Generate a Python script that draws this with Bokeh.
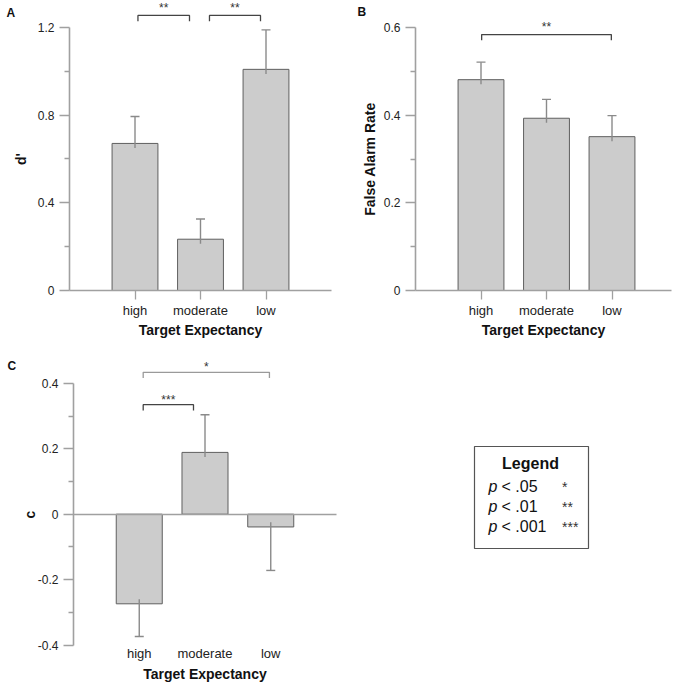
from bokeh.plotting import figure
from bokeh.models import Range1d, FixedTicker, LinearAxis
from bokeh.layouts import column, row
from bokeh.embed import file_html
from bokeh.resources import INLINE
from bokeh.core.properties import value

# ---------------- data ----------------
categories = ["high", "moderate", "low"]

d_prime = [0.671, 0.234, 1.009]
d_prime_se = [0.123, 0.092, 0.180]

false_alarm = [0.481, 0.393, 0.351]
false_alarm_se = [0.040, 0.043, 0.048]

criterion = [-0.274, 0.189, -0.039]
criterion_se = [0.100, 0.115, 0.133]

sig_A = [("high", "moderate", "**"), ("moderate", "low", "**")]
sig_B = [("high", "low", "**")]
sig_C = [("high", "moderate", "***"), ("high", "low", "*")]

ticks_A = [0, 0.4, 0.8, 1.2]
minor_A = [0.2, 0.6, 1.0]
ticks_B = [0, 0.2, 0.4, 0.6]
minor_B = [0.1, 0.3, 0.5]
ticks_C = [-0.4, -0.2, 0, 0.2, 0.4]
minor_C = [-0.3, -0.1, 0.1, 0.3]

legend_title = "Legend"
legend_p = ["< .05", "< .01", "< .001"]
legend_stars = ["*", "**", "***"]

# ---------------- style ----------------
FONT = "Liberation Sans"
AXIS_C = "#a0a0a0"
TEXT_C = "#222222"
BAR_FILL = "#cccccc"
BAR_LINE = "#5f5f5f"
ERR_C = "#8a8a8a"


def style_axis(ax):
    ax.axis_label_text_font = FONT
    ax.axis_label_text_font_style = "bold"
    ax.axis_label_text_font_size = "14px"
    ax.axis_label_text_color = "#111111"
    ax.major_label_text_font = FONT
    ax.major_label_text_color = TEXT_C
    ax.axis_line_color = AXIS_C
    ax.axis_line_width = 1.6
    ax.major_tick_line_color = AXIS_C
    ax.major_tick_line_width = 1.3
    ax.minor_tick_line_color = AXIS_C
    ax.minor_tick_line_width = 1.3
    ax.major_tick_in = 0
    ax.minor_tick_in = 0


def tick_text(t):
    if t == 0:
        return "0"
    return "%g" % t


def panel(letter, vals, errs, sigs, ylabel, ticks, minors, ybounds, xbounds,
          W, H, x0_px, ppx, y0_px, ppy, brackets, star_dy_px, ylab_standoff,
          letter_px, criterion_style=False):
    p = figure(width=W, height=H,
               x_range=Range1d(-x0_px / ppx, (W - x0_px) / ppx),
               y_range=Range1d((y0_px - H) / ppy, y0_px / ppy),
               output_backend="svg", toolbar_location=None,
               min_border=0, min_border_left=0, min_border_right=0,
               min_border_top=0, min_border_bottom=0)
    p.outline_line_color = None
    p.xgrid.visible = False
    p.ygrid.visible = False
    p.background_fill_color = "white"

    xs = [i + 1 for i in range(len(categories))]
    pos = {c: i + 1 for i, c in enumerate(categories)}

    # bars
    p.vbar(x=xs, top=vals, bottom=0, width=0.7,
           fill_color=BAR_FILL, line_color=BAR_LINE, line_width=1)

    # error bars (pointing away from zero)
    stub = 4.6 / ppy
    cap = 4.5 / ppx
    y0s, y1s = [], []
    for v, e in zip(vals, errs):
        s = 1 if v >= 0 else -1
        y0s.append(v - s * stub)
        y1s.append(v + s * e)
    p.segment(x0=xs, y0=y0s, x1=xs, y1=y1s, line_color=ERR_C, line_width=1.4)
    p.segment(x0=[x - cap for x in xs], y0=y1s, x1=[x + cap for x in xs], y1=y1s,
              line_color=ERR_C, line_width=1.4)

    # significance brackets
    leg = 5.8 / ppy
    for (a, b, stars), (inl, inr, ytop, col) in zip(sigs, brackets):
        x0 = pos[a] + inl
        x1 = pos[b] - inr
        p.line([x0, x0, x1, x1], [ytop - leg, ytop, ytop, ytop - leg],
               line_color=col, line_width=1.3)
        p.text(x=[(x0 + x1) / 2], y=[ytop + star_dy_px / ppy], text=[stars],
               text_align="center", text_baseline="alphabetic",
               text_font=value(FONT), text_font_size="12px", text_color="#333333")

    # x axis
    xa = p.xaxis[0]
    style_axis(xa)
    xa.ticker = FixedTicker(ticks=xs)
    xa.major_label_overrides = {x: c for x, c in zip(xs, categories)}
    xa.axis_label = "Target Expectancy"
    xa.major_label_text_font_size = "13px"
    xa.bounds = xbounds
    xa.major_tick_out = 9
    xa.minor_tick_line_color = None
    xa.major_label_standoff = 3
    xa.axis_label_standoff = 1
    if criterion_style:
        xa.fixed_location = ybounds[0]
        xa.axis_line_color = None
        xa.major_tick_line_color = None
        xa.major_tick_out = 0
        xa.major_label_standoff = 1
        xa.axis_label_standoff = 1
        zero_ax = LinearAxis(fixed_location=0, bounds=xbounds,
                             ticker=FixedTicker(ticks=[]))
        style_axis(zero_ax)
        zero_ax.major_tick_line_color = None
        zero_ax.minor_tick_line_color = None
        zero_ax.major_label_text_font_size = "0px"
        p.add_layout(zero_ax, "below")
    else:
        xa.fixed_location = 0

    # y axis
    ya = p.yaxis[0]
    style_axis(ya)
    ya.fixed_location = 0
    ya.ticker = FixedTicker(ticks=ticks, minor_ticks=minors)
    ya.bounds = ybounds
    ya.major_label_overrides = {t: tick_text(t) for t in ticks}
    ya.axis_label = ylabel
    ya.major_label_text_font_size = "12px"
    ya.major_tick_out = 10
    ya.minor_tick_out = 5
    ya.major_label_standoff = 5
    ya.axis_label_standoff = ylab_standoff

    # panel letter
    lx, ly = letter_px
    p.text(x=[(lx - x0_px) / ppx], y=[(y0_px - ly) / ppy], text=[letter],
           text_align="left", text_baseline="alphabetic",
           text_font=value(FONT), text_font_style="bold",
           text_font_size="12px", text_color="#111111")
    return p


pA = panel("A", d_prime, d_prime_se, sig_A, "d'", ticks_A, minor_A,
           (0, 1.2), (0, 4.0),
           340, 340, 69, 65.5, 290, 219.17,
           [(0.045, 0.168, 1.255, "#444444"), (0.137, 0.084, 1.255, "#444444")],
           7, 6, (6, 12.5))

pB = panel("B", false_alarm, false_alarm_se, sig_B, "False Alarm Rate",
           ticks_B, minor_B, (0, 0.6), (0, 256 / 65.5),
           336, 340, 75, 65.5, 290, 438.3,
           [(0.01, 0.01, 0.584, "#444444")],
           8, 3, (17, 11.5))

pC = panel("C", criterion, criterion_se, sig_C, "c", ticks_C, minor_C,
           (-0.4, 0.4), (0, 4.0),
           340, 344, 73, 65.75, 173.7, 327,
           [(0.06, 0.175, 0.335, "#444444"), (0.06, 0.02, 0.434, "#9a9a9a")],
           5, -3, (7, 25.5), criterion_style=True)

# legend panel (coordinates in panel pixels, y downwards)
pL = figure(width=336, height=344, x_range=Range1d(0, 336), y_range=Range1d(344, 0),
            output_backend="svg", toolbar_location=None,
            x_axis_type=None, y_axis_type=None, min_border=0,
            min_border_left=0, min_border_right=0, min_border_top=0, min_border_bottom=0)
pL.outline_line_color = None
pL.xgrid.visible = False
pL.ygrid.visible = False
pL.quad(left=[134], right=[248], top=[106], bottom=[208],
        fill_color="white", line_color="#555555", line_width=1.2)
pL.text(x=[190], y=[122.5], text=[legend_title], text_align="center",
        text_baseline="middle", text_font=value(FONT), text_font_style="bold",
        text_font_size="16px", text_color="#111111")
row_y = [146 + 20 * i for i in range(len(legend_p))]
pL.text(x=[148] * len(legend_p), y=row_y, text=["p"] * len(legend_p),
        text_align="left", text_baseline="middle", text_font=value(FONT),
        text_font_style="italic", text_font_size="16px", text_color="#111111")
pL.text(x=[161] * len(legend_p), y=row_y, text=legend_p,
        text_align="left", text_baseline="middle", text_font=value(FONT),
        text_font_size="16px", text_color="#111111")
pL.text(x=[221.5] * len(legend_p), y=row_y, text=legend_stars,
        text_align="left", text_baseline="middle", text_font=value(FONT),
        text_font_size="14px", text_color="#333333")

layout = column(row(pA, pB), row(pC, pL))
open("out.html", "w").write(file_html(layout, INLINE))
